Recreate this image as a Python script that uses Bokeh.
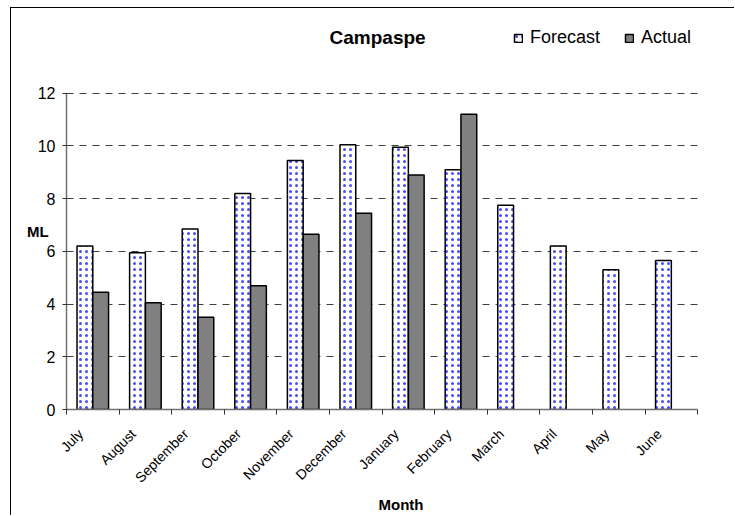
import numpy as np
from math import pi
from bokeh.plotting import figure
from bokeh.models import (ColumnDataSource, Range1d, FixedTicker, Legend,
                          LegendItem, Label)
from bokeh.transform import dodge
from bokeh.embed import file_html
from bokeh.resources import INLINE

# ---- data ----
months = ["July", "August", "September", "October", "November", "December",
          "January", "February", "March", "April", "May", "June"]
forecast = [6.2, 5.95, 6.85, 8.2, 9.45, 10.05, 9.95, 9.1, 7.75, 6.2, 5.3, 5.65]
actual = [4.45, 4.05, 3.5, 4.7, 6.65, 7.45, 8.9, 11.2]
y_ticks = [0, 2, 4, 6, 8, 10, 12]
title_text = "Campaspe"
x_label = "Month"
y_label = "ML"

FONT = "Liberation Sans"
N = len(months)
YMAX = 12

centers = np.arange(N) + 0.5          # category centres
label_pos = centers - 0.23            # where the slanted month names hang
src_f = ColumnDataSource(dict(x=centers, top=forecast))
src_a = ColumnDataSource(dict(x=centers[:len(actual)], top=actual))

p = figure(width=724, height=508, output_backend="svg", toolbar_location=None,
           x_range=Range1d(0, 12.72), y_range=Range1d(0, 15.215),
           min_border_left=55, min_border_right=0, min_border_top=0,
           min_border_bottom=101)
p.outline_line_color = None
p.background_fill_color = "white"
p.border_fill_color = "white"
p.styles = {"border-left": "1px solid black", "border-top": "1px solid black",
            "margin-left": "10px", "margin-top": "7px"}

p.xgrid.visible = False
p.ygrid.ticker = FixedTicker(ticks=y_ticks[1:])
p.ygrid.bounds = (0, YMAX)
p.ygrid.cross_bounds = (0, N)
p.ygrid.grid_line_color = "#404040"
p.ygrid.grid_line_dash = "7 6"
p.ygrid.grid_line_width = 1

fr = p.vbar(x=dodge('x', -0.15, range=p.x_range), top='top', width=0.3,
            source=src_f, fill_color="white", line_color="black",
            line_width=1.5, hatch_pattern="dot", hatch_color="#4a4aff",
            hatch_scale=6, hatch_weight=1.0)
ar = p.vbar(x=dodge('x', 0.15, range=p.x_range), top='top', width=0.3,
            source=src_a, fill_color="#808080", line_color="black",
            line_width=1.5)

# x axis
p.xaxis.bounds = (0, N)
p.xaxis.ticker = FixedTicker(ticks=list(label_pos), minor_ticks=list(range(N + 1)))
p.xaxis.major_label_overrides = {float(x): m for x, m in zip(label_pos, months)}
p.xaxis.major_label_orientation = pi / 4
p.xaxis.major_label_standoff = 16
p.xaxis.major_label_text_font = FONT
p.xaxis.major_label_text_font_size = "14px"
p.xaxis.major_label_text_color = "black"
p.xaxis.major_tick_line_color = None
p.xaxis.minor_tick_line_color = "#333333"
p.xaxis.minor_tick_out = 5
p.xaxis.minor_tick_in = 0
p.xaxis.axis_line_color = "#707070"
p.xaxis.axis_line_width = 1.5
p.xaxis.axis_label = x_label
p.xaxis.axis_label_text_font = FONT
p.xaxis.axis_label_text_font_style = "bold"
p.xaxis.axis_label_text_font_size = "15px"
p.xaxis.axis_label_text_color = "black"
p.xaxis.axis_label_standoff = 2

# y axis (line limited to 0..12; label horizontal)
p.yaxis.bounds = (0, YMAX)
p.yaxis.ticker = FixedTicker(ticks=y_ticks)
p.yaxis.axis_line_color = "#707070"
p.yaxis.axis_line_width = 1.5
p.yaxis.major_label_text_font = FONT
p.yaxis.major_label_text_font_size = "16px"
p.yaxis.major_label_text_color = "black"
p.yaxis.major_tick_out = 4
p.yaxis.major_tick_in = 1
p.yaxis.major_tick_line_color = "#333333"
p.yaxis.minor_tick_line_color = None
p.yaxis.major_label_standoff = 7
p.yaxis.axis_label = "\n\n" + y_label
p.yaxis.axis_label_orientation = "horizontal"
p.yaxis.axis_label_text_font = FONT
p.yaxis.axis_label_text_font_style = "bold"
p.yaxis.axis_label_text_font_size = "15px"
p.yaxis.axis_label_text_color = "black"
p.yaxis.axis_label_text_line_height = 1.3
p.yaxis.axis_label_standoff = -14

# title
p.add_layout(Label(x=5.915, y=14.13, text=title_text, text_align="center",
                   text_baseline="middle", text_font=FONT, text_color="black",
                   text_font_style="bold", text_font_size="19px"))

legend = Legend(items=[LegendItem(label="Forecast", renderers=[fr]),
                       LegendItem(label="Actual", renderers=[ar])],
                location=(447, 361), orientation="horizontal", padding=0,
                spacing=24, label_standoff=7, glyph_width=10, glyph_height=10,
                label_height=18, border_line_color=None,
                background_fill_alpha=0, label_text_color="black",
                label_text_font=FONT, label_text_font_size="18px", margin=0)
p.add_layout(legend, "center")

open("out.html", "w").write(file_html(p, INLINE))
